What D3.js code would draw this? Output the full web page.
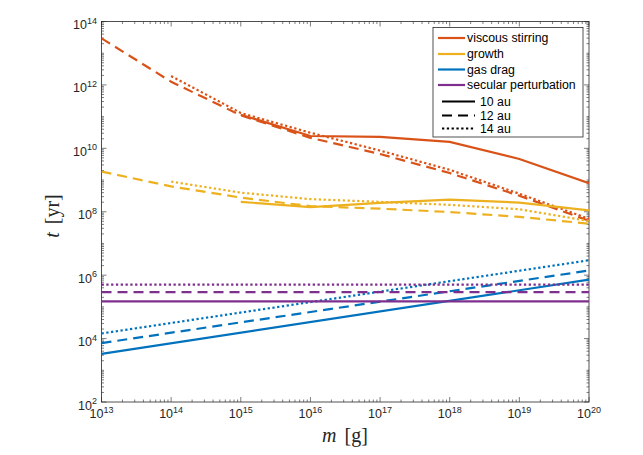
<!DOCTYPE html>
<html><head><meta charset="utf-8">
<script src="https://cdn.jsdelivr.net/npm/d3@7"></script>
<style>
html,body{margin:0;padding:0;background:#fff;}
svg{display:block;}
</style></head>
<body>
<svg id="chart" width="643" height="455"></svg>
<script>
// ---- data ----
const xTickValues = [1e13,1e14,1e15,1e16,1e17,1e18,1e19,1e20];
const yTickValues = [1e2,1e4,1e6,1e8,1e10,1e12,1e14];

// viscous stirring
const vsM10 = [1e15,1e16,1e17,1e18,1e19,1e20];
const vsT10 = [1.15e11,2.45e10,2.3e10,1.6e10,4.6e9,8.0e8];
const vsM12 = [1e13,1e14,1e15,1e16,1e17,1e18,1e19,1e20];
const vsT12 = [2.95e13,1.26e12,1.1e11,2.14e10,6.6e9,1.66e9,3.2e8,5.2e7];
const vsM14 = [1e14,1e15,1e16,1e17,1e18,1e19,1e20];
const vsT14 = [1.9e12,1.3e11,3.1e10,8.5e9,2.1e9,3.7e8,6.0e7];

// growth
const grM10 = [1e15,1e16,1e17,1e18,1e19,1e20];
const grT10 = [2.05e8,1.4e8,1.9e8,2.4e8,1.95e8,1.1e8];
const grM12 = [1e13,1e14,1e15,1e16,1e17,1e18,1e19,1e20];
const grT12 = [1.85e9,6.3e8,2.8e8,1.5e8,1.25e8,9.8e7,6.9e7,4.2e7];
const grM14 = [1e14,1e15,1e16,1e17,1e18,1e19,1e20];
const grT14 = [8.9e8,4.0e8,2.5e8,2.05e8,1.65e8,1.2e8,5.1e7];

// gas drag
const gdM = [1e13,1e20];
const gdT10 = [3.3e3,7.2e5];
const gdT12 = [7.2e3,1.4e6];
const gdT14 = [1.45e4,2.95e6];

// secular perturbation
const spM = [1e13,1e20];
const spT10 = [1.5e5,1.5e5];
const spT12 = [2.9e5,2.9e5];
const spT14 = [5.0e5,5.0e5];

const seriesNames = ["viscous stirring","growth","gas drag","secular perturbation"];
const seriesColors = ["#D95319","#EDB120","#0072BD","#7E2F8E"];
const styleNames = ["10 au","12 au","14 au"];

// ---- layout ----
const svg = d3.select("#chart");
const L = 101.5, T = 21.5, R = 589, B = 402;
const axisColor = "#262626";
const x = d3.scaleLog().domain([1e13,1e20]).range([L,R]);
const y = d3.scaleLog().domain([1e2,1e14]).range([B,T]);

const dashes = [null, "10,6", "2.3,2.5"];
const lw = 2.2;

svg.append("defs").append("clipPath").attr("id","clip")
  .append("rect").attr("x",L).attr("y",T).attr("width",R-L).attr("height",B-T);

// axes box + ticks
const g = svg.append("g");
function minorTicks(lo, hi){
  const out=[];
  for(let e=lo;e<hi;e++){ for(let k=1;k<=9;k++){ out.push(k*Math.pow(10,e)); } }
  out.push(Math.pow(10,hi));
  return out;
}
const xMinor = minorTicks(13,20);
const yMinor = minorTicks(2,14);

const tickG = g.append("g").attr("stroke",axisColor).attr("stroke-width",0.6);
xMinor.forEach(v=>{
  const isMajor = Math.abs(Math.log10(v)-Math.round(Math.log10(v)))<1e-9;
  const len = isMajor?5:2.5;
  const px = x(v);
  tickG.append("line").attr("x1",px).attr("x2",px).attr("y1",B).attr("y2",B-len);
  tickG.append("line").attr("x1",px).attr("x2",px).attr("y1",T).attr("y2",T+len);
});
yMinor.forEach(v=>{
  const lg = Math.log10(v);
  const isMajor = Math.abs(lg-Math.round(lg))<1e-9 && Math.round(lg)%2===0;
  const len = isMajor?5:2.5;
  const py = y(v);
  tickG.append("line").attr("x1",L).attr("x2",L+len).attr("y1",py).attr("y2",py);
  tickG.append("line").attr("x1",R).attr("x2",R-len).attr("y1",py).attr("y2",py);
});
g.append("rect").attr("x",L).attr("y",T).attr("width",R-L).attr("height",B-T)
  .attr("fill","none").attr("stroke",axisColor).attr("stroke-width",0.8);

// tick labels
const tickFont = "'Liberation Sans', Arial, sans-serif";
xTickValues.forEach(v=>{
  const e = Math.round(Math.log10(v));
  const t = svg.append("text").attr("x",x(v)).attr("y",418)
    .attr("text-anchor","middle").attr("font-family",tickFont)
    .attr("font-size",12.5).attr("fill",axisColor);
  t.append("tspan").text("10");
  t.append("tspan").attr("dy",-5.5).attr("font-size",9).text(e);
});
yTickValues.forEach(v=>{
  const e = Math.round(Math.log10(v));
  const t = svg.append("text").attr("x",97).attr("y",y(v)+7.5)
    .attr("text-anchor","end").attr("font-family",tickFont)
    .attr("font-size",12.5).attr("fill",axisColor);
  t.append("tspan").text("10");
  t.append("tspan").attr("dy",-5.5).attr("font-size",9).text(e);
});

// axis labels
const serif = "'Liberation Serif','DejaVu Serif',serif";
const xl = svg.append("text").attr("x",345).attr("y",442).attr("text-anchor","middle")
  .attr("font-family",serif).attr("font-size",20).attr("fill",axisColor);
xl.append("tspan").attr("font-style","italic").text("m");
xl.append("tspan").attr("dx",3).text(" [g]");
const yl = svg.append("text").attr("transform","translate(59,216) rotate(-90)")
  .attr("text-anchor","middle").attr("font-family",serif).attr("font-size",20).attr("fill",axisColor);
yl.append("tspan").attr("font-style","italic").text("t");
yl.append("tspan").attr("dx",3).text(" [yr]");

// lines
const line = d3.line().x(d=>x(d[0])).y(d=>y(d[1]));
const plotG = svg.append("g").attr("clip-path","url(#clip)");
function drawSeries(ms, ts, color, styleIdx){
  const pts = ms.map((m,i)=>[m,ts[i]]);
  plotG.append("path").datum(pts).attr("d",line)
    .attr("fill","none").attr("stroke",color).attr("stroke-width",lw)
    .attr("stroke-dasharray",dashes[styleIdx]);
}
const groups = [
  [[vsM10,vsT10],[vsM12,vsT12],[vsM14,vsT14]],
  [[grM10,grT10],[grM12,grT12],[grM14,grT14]],
  [[gdM,gdT10],[gdM,gdT12],[gdM,gdT14]],
  [[spM,spT10],[spM,spT12],[spM,spT14]]
];
groups.forEach((grp,gi)=>{
  grp.forEach((s,si)=>drawSeries(s[0],s[1],seriesColors[gi],si));
});

// legend
const lg = svg.append("g");
lg.append("rect").attr("x",433).attr("y",27.5).attr("width",150).attr("height",109.5)
  .attr("fill","#fff").attr("stroke",axisColor).attr("stroke-width",0.8);
const rowY = [38,54,69.5,85,101.5,115.5,128.5];
seriesNames.forEach((n,i)=>{
  lg.append("line").attr("x1",438).attr("x2",465).attr("y1",rowY[i]).attr("y2",rowY[i])
    .attr("stroke",seriesColors[i]).attr("stroke-width",lw);
  lg.append("text").attr("x",467).attr("y",rowY[i]+4.3).attr("font-family",tickFont)
    .attr("font-size",12.3).attr("fill","#000").text(n);
});
styleNames.forEach((n,i)=>{
  const yy = rowY[4+i];
  lg.append("line").attr("x1",442).attr("x2",475).attr("y1",yy).attr("y2",yy)
    .attr("stroke","#000").attr("stroke-width",lw).attr("stroke-dasharray",dashes[i]);
  lg.append("text").attr("x",480).attr("y",yy+4.3).attr("font-family",tickFont)
    .attr("font-size",12.3).attr("fill","#000").text(n);
});
</script>
</body></html>
